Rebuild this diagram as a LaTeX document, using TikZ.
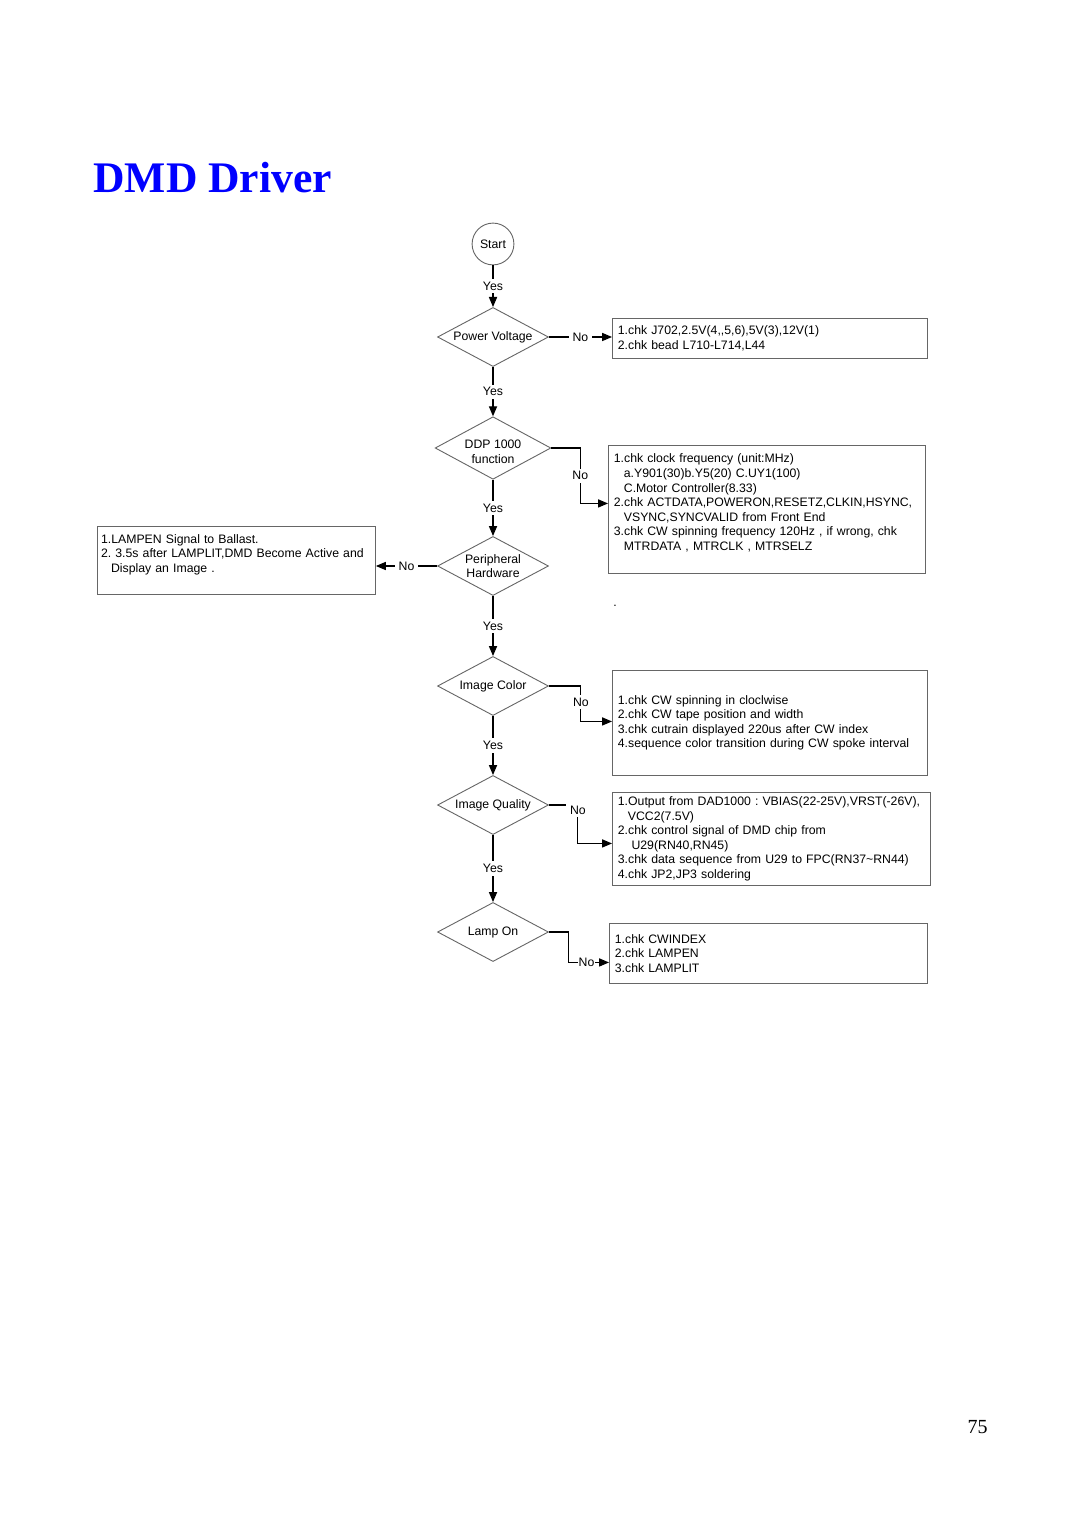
\documentclass[tikz,border=0pt]{standalone}
\usepackage{fontspec}
\setmainfont{Liberation Sans}
\newfontfamily\serifface{Liberation Serif}
\usetikzlibrary{shapes.geometric,arrows.meta}
\definecolor{titleblue}{RGB}{0,0,255}
\frenchspacing

\begin{document}
\begin{tikzpicture}[x=0.55pt, y=-0.55pt, font=\fontsize{6.75}{8}\selectfont,
        decision/.style={diamond, draw=black!60, line width=0.5pt, aspect=1.85, inner sep=0pt,
            minimum width=61pt, minimum height=32.5pt, align=center},
        startnode/.style={circle, draw=black!60, line width=0.5pt, minimum size=23pt, inner sep=0pt},
        checkbox/.style={rectangle, draw=black!60, line width=0.5pt, anchor=north west,
            align=left, inner xsep=3pt, inner ysep=0pt},
        arr/.style={line width=0.6pt, -{Triangle[length=5.5pt,width=4.5pt]}},
        lbl/.style={fill=white, inner xsep=2pt, inner ysep=1.5pt}]
        \useasboundingbox (0,0) rectangle (1080,1528);

        % Title and page number
        \node[anchor=base west, inner sep=0pt, text=titleblue,
            font=\serifface\bfseries\fontsize{24}{28}\selectfont] (title) at (93,193) {DMD Driver};
        \node[anchor=base east, inner sep=0pt,
            font=\serifface\fontsize{11}{13}\selectfont] (pagenum) at (988,1433) {75};

        % Flow (main column)
        \node[startnode] (start) at (493,244) {Start};
        \node[decision] (pv) at (493,337) {Power Voltage};
        \node[decision] (ddp) at (493,448) {\rule{0pt}{9pt}DDP 1000\\[0.5pt]function};
        \node[decision] (ph) at (493,566) {Peripheral\\Hardware};
        \node[decision] (ic) at (493,686) {Image Color};
        \node[decision] (iq) at (493,805) {Image Quality};
        \node[decision] (lo) at (493,932) {Lamp On};

        % Check lists
        \node[checkbox, text width=167.25pt, minimum height=22pt] (chk1) at (612,318)
            {1.chk J702,2.5V(4,{},5,6),5V(3),12V(1)\\
             2.chk bead L710-L714,L44};
        \node[checkbox, text width=168.35pt, minimum height=70.4pt] (chk2) at (608,445)
            {1.chk clock frequency (unit:MHz)\\
             \hspace*{5.5pt}a.Y901(30)b.Y5(20) C.UY1(100)\\
             \hspace*{5.5pt}C.Motor Controller(8.33)\\
             2.chk ACTDATA,POWERON,RESETZ,CLKIN,HSYNC,\\
             \hspace*{5.5pt}VSYNC,SYNCVALID from Front End\\
             3.chk CW spinning frequency 120Hz , if wrong, chk\\
             \hspace*{5.5pt}MTRDATA , MTRCLK , MTRSELZ\\
             \mbox{}};
        \node[checkbox, text width=148.9pt, minimum height=37.4pt, inner xsep=2pt] (chk3) at (97,526)
            {1.LAMPEN Signal to Ballast.\\
             2. 3.5s after LAMPLIT,DMD Become Active and\\
             \hspace*{5.5pt}Display an Image .\\
             \mbox{}};
        \node[checkbox, text width=167.25pt, minimum height=57.75pt] (chk4) at (612,670)
            {1.chk CW spinning in cloclwise\\
             2.chk CW tape position and width\\
             3.chk cutrain displayed 220us after CW index\\
             4.sequence color transition during CW spoke interval};
        \node[checkbox, text width=168.9pt, minimum height=51.15pt] (chk5) at (612,792)
            {1.Output from DAD1000 : VBIAS(22-25V),VRST(-26V),\\
             \hspace*{5.5pt}VCC2(7.5V)\\
             2.chk control signal of DMD chip from\\
             \hspace*{7.5pt}U29(RN40,RN45)\\
             3.chk data sequence from U29 to FPC(RN37\textasciitilde RN44)\\
             4.chk JP2,JP3 soldering};
        \node[checkbox, text width=168.9pt, minimum height=33pt] (chk6) at (609,923)
            {1.chk CWINDEX\\
             2.chk LAMPEN\\
             3.chk LAMPLIT};
        \node (dot) at (615,606) {.};

        % Yes branches
        \draw[arr] (start) -- node[lbl] {Yes} (pv);
        \draw[arr] (pv) -- node[lbl] {Yes} (ddp);
        \draw[arr] (ddp) -- node[lbl] {Yes} (ph);
        \draw[arr] (ph) -- node[lbl] {Yes} (ic);
        \draw[arr] (ic) -- node[lbl] {Yes} (iq);
        \draw[arr] (iq) -- node[lbl] {Yes} (lo);

        % No branches
        \draw[arr] (pv.east) -- node[lbl] {No} (pv.east -| chk1.west);
        \draw[arr] (ddp.east) -- ++(29,0) |- node[lbl, pos=.25] {No} ([shift={(0,-6)}]chk2.west);
        \draw[arr] (ph.west) -- node[lbl] {No} (ph.west -| chk3.east);
        \draw[arr] (ic.east) -- ++(32,0) |- node[lbl, pos=.23] {No} ([shift={(0,-1.5)}]chk4.west);
        \draw[arr] (iq.east) -- ++(29,0) |- node[lbl, pos=.07] {No} ([shift={(0,4.5)}]chk5.west);
        \draw[arr] (lo.east) -- ++(20,0) |- node[lbl, pos=.72, inner xsep=.5pt] {No} ([shift={(0,9)}]chk6.west);
\end{tikzpicture}
\end{document}
